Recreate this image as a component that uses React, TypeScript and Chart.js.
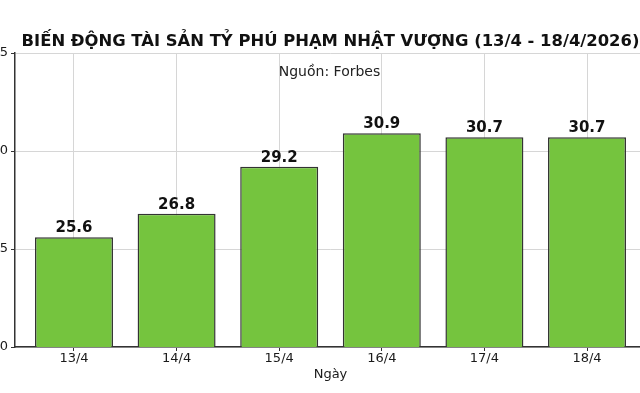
import React, { useEffect, useRef } from 'react';
import { Chart, registerables } from 'chart.js';

Chart.register(...registerables);

const categories = ['13/4', '14/4', '15/4', '16/4', '17/4', '18/4'];
const values = [25.6, 26.8, 29.2, 30.9, 30.7, 30.7];
const yTicks = [20, 25, 30, 35];
const titleText = 'BIẾN ĐỘNG TÀI SẢN TỶ PHÚ PHẠM NHẬT VƯỢNG (13/4 - 18/4/2026)';
const sourceText = 'Nguồn: Forbes';
const xAxisTitle = 'Ngày';

const CANVAS_W = 700;
const CANVAS_H = 393;
const SHIFT = 40;
const FONT = "'DejaVu Sans', sans-serif";

const barLabelPlugin = {
  id: 'barLabels',
  afterDatasetsDraw(chart: any) {
    const ctx = chart.ctx;
    const meta = chart.getDatasetMeta(0);
    ctx.save();
    ctx.font = `bold 15px ${FONT}`;
    ctx.fillStyle = '#111';
    ctx.textAlign = 'center';
    ctx.textBaseline = 'alphabetic';
    meta.data.forEach((bar: any, i: number) => {
      ctx.fillText(values[i].toFixed(1), bar.x, bar.y - 5);
    });
    ctx.restore();
  },
};

const sourcePlugin = {
  id: 'sourceText',
  afterDraw(chart: any) {
    const { ctx, chartArea } = chart;
    ctx.save();
    ctx.font = `14px ${FONT}`;
    ctx.fillStyle = '#222';
    ctx.textAlign = 'center';
    ctx.textBaseline = 'alphabetic';
    ctx.fillText(sourceText, (chartArea.left + chartArea.right) / 2 - 1, 76);
    ctx.restore();
  },
};

export default function App() {
  const ref = useRef<HTMLCanvasElement | null>(null);

  useEffect(() => {
    if (!ref.current) return;
    Chart.defaults.font.family = FONT;
    const chart = new Chart(ref.current, {
      type: 'bar',
      data: {
        datasets: [
          {
            data: values.map((v, i) => ({ x: i, y: v })),
            backgroundColor: '#75c43e',
            borderColor: '#333333',
            borderWidth: 1.5,
            borderSkipped: false,
            barPercentage: 0.76,
            categoryPercentage: 1,
          },
        ],
      },
      options: {
        animation: false,
        responsive: false,
        devicePixelRatio: 1,
        layout: { padding: { left: 0, right: 14, top: 0, bottom: 0 } },
        plugins: {
          legend: { display: false },
          tooltip: { enabled: false },
          title: {
            display: true,
            text: titleText,
            fullSize: false,
            color: '#111',
            font: { size: 16.4, weight: 'bold', family: FONT, lineHeight: 1.2 },
            padding: { top: 32, bottom: 1.32 },
          },
        },
        scales: {
          x: {
            type: 'linear',
            min: -0.575,
            max: 5.575,
            offset: false,
            afterBuildTicks: (scale: any) => {
              scale.ticks = categories.map((_, i) => ({ value: i }));
            },
            afterFit: (scale: any) => {
              scale.height = 46;
            },
            ticks: {
              autoSkip: false,
              maxRotation: 0,
              padding: 0,
              color: '#1a1a1a',
              font: { size: 13, family: FONT },
              callback: (v: any) => categories[v] ?? '',
            },
            grid: {
              offset: false,
              color: '#d6d6d6',
              lineWidth: 1,
              tickColor: '#333',
              tickLength: 4,
            },
            border: { display: true, color: '#333', width: 1.5 },
            title: {
              display: true,
              text: xAxisTitle,
              color: '#1a1a1a',
              font: { size: 13, family: FONT },
              padding: { top: 0, bottom: 11 },
            },
          },
          y: {
            min: 20,
            max: 35,
            afterBuildTicks: (scale: any) => {
              scale.ticks = yTicks.map((v) => ({ value: v }));
            },
            afterFit: (scale: any) => {
              scale.width = 55;
            },
            ticks: {
              padding: 3,
              color: '#1a1a1a',
              font: { size: 13, family: FONT },
            },
            grid: {
              color: '#d6d6d6',
              lineWidth: 1,
              tickColor: '#333',
              tickLength: 4,
            },
            border: { display: true, color: '#333', width: 1.5 },
          },
        },
      },
      plugins: [barLabelPlugin, sourcePlugin],
    } as any);
    return () => chart.destroy();
  }, []);

  return (
    <div
      style={{
        position: 'fixed',
        left: 0,
        top: 0,
        width: 640,
        height: 393,
        overflow: 'hidden',
        background: '#fff',
      }}
    >
      <canvas
        ref={ref}
        width={CANVAS_W}
        height={CANVAS_H}
        style={{ position: 'absolute', left: -SHIFT, top: 0, width: CANVAS_W, height: CANVAS_H }}
      />
    </div>
  );
}
